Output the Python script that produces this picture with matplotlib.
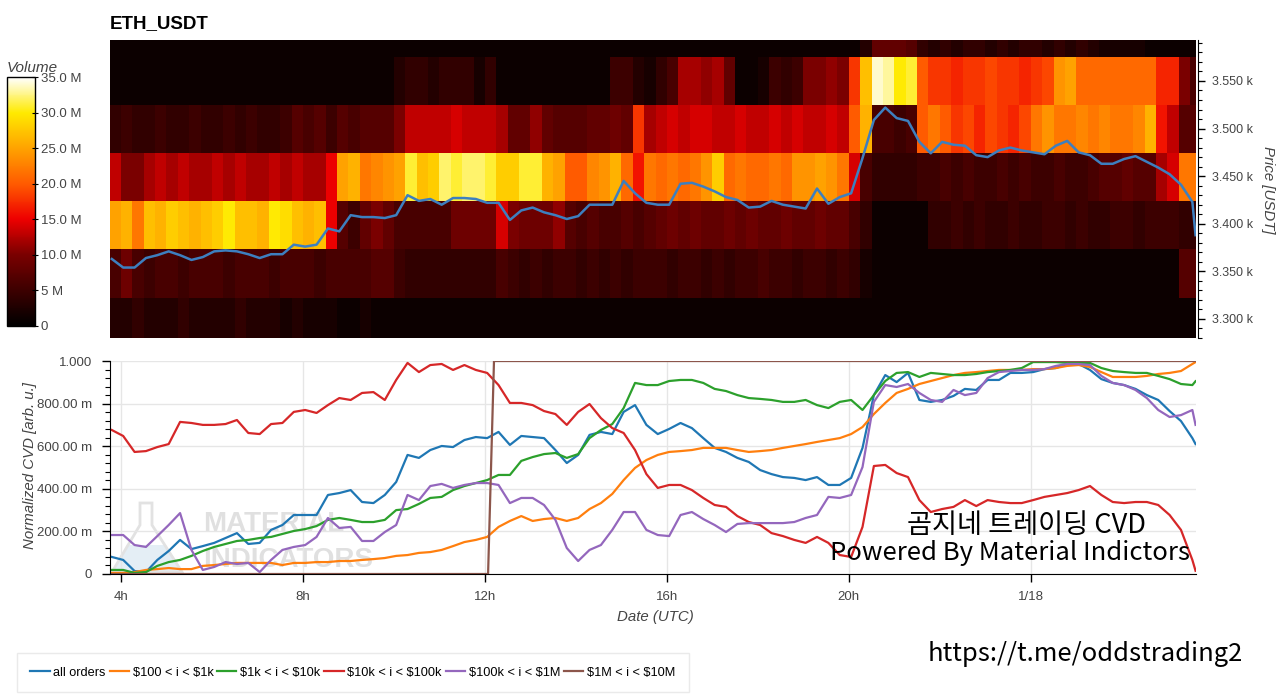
#!/usr/bin/env python3
import numpy as np
import matplotlib
matplotlib.use("Agg")
import matplotlib.pyplot as plt
from matplotlib.colors import LinearSegmentedColormap
from matplotlib.patches import Polygon
from matplotlib.ticker import FixedLocator, MultipleLocator, FuncFormatter

plt.rcParams['font.family'] = ['Liberation Sans', 'DejaVu Sans']
KR_FONT = ['Noto Sans CJK KR', 'DejaVu Sans']

W, H = 1280, 694
TEXT_COLOR = '#444444'

# Time axis in hours since 1/17 00:00 UTC
X_MIN, X_MAX = 3.76, 27.63
TIMES = np.append(3.8 + 0.25 * np.arange(96), 27.62)
CELL_EDGES = 3.75 + 0.25 * np.arange(97)
PRICE_EDGES = [3271, 3322, 3373, 3424, 3474, 3525, 3575, 3626]

X_TICKS = [4, 8, 12, 16, 20, 24]
X_TICK_LABELS = ['4h', '8h', '12h', '16h', '20h', '1/18']
PRICE_TICKS = [3300, 3350, 3400, 3450, 3500, 3550]
VOLUME_TICKS = [0, 5, 10, 15, 20, 25, 30, 35]
VOLUME_TICK_LABELS = ['0', '5 M', '10.0 M', '15.0 M', '20.0 M', '25.0 M', '30.0 M', '35.0 M']
CVD_TICKS = [0, 0.2, 0.4, 0.6, 0.8, 1.0]

# Volume per price band (millions), one value per 15 min column
band_3296 = [3, 3, 4, 3, 3, 3, 4, 3, 3, 3,
             3, 4, 3, 3, 3, 2, 3, 2, 2, 2,
             1, 1, 2, 1, 1, 1, 1, 1, 1, 1,
             1, 1, 1, 1, 1, 1, 1, 1, 1, 1,
             1, 1, 1, 1, 1, 1, 1, 1, 1, 1,
             1, 1, 1, 1, 1, 1, 1, 1, 1, 1,
             1, 1, 1, 1, 1, 1, 1, 1, 1, 1,
             1, 1, 1, 1, 1, 1, 1, 1, 1, 1,
             1, 1, 1, 1, 1, 1, 1, 1, 1, 1,
             1, 1, 1, 1, 1, 1]
band_3347 = [6, 9, 6, 5, 6, 6, 5, 6, 6, 6,
             5, 6, 6, 6, 5, 6, 6, 6, 5, 6,
             6, 6, 6, 7, 7, 5, 4, 4, 4, 4,
             4, 4, 4, 4, 6, 5, 4, 5, 4, 5,
             5, 4, 5, 4, 5, 4, 5, 5, 5, 4,
             5, 5, 4, 5, 4, 5, 5, 6, 5, 5,
             4, 5, 5, 4, 5, 4, 2, 1, 1, 1,
             1, 1, 1, 1, 1, 1, 1, 1, 1, 1,
             1, 1, 1, 1, 1, 1, 1, 1, 1, 1,
             1, 1, 1, 1, 7, 7]
band_3398 = [25, 26, 22, 27, 26, 28, 27, 26, 27, 28,
             30, 27, 27, 26, 30, 29, 27, 26, 27, 15,
             7, 5, 8, 10, 8, 6, 6, 6, 6, 6,
             9, 9, 9, 9, 14, 10, 9, 9, 9, 11,
             7, 6, 7, 6, 6, 7, 6, 7, 8, 9,
             8, 9, 8, 8, 9, 8, 9, 8, 8, 9,
             8, 8, 9, 8, 8, 6, 4, 1, 1, 1,
             1, 1, 4, 4, 5, 4, 5, 4, 4, 5,
             4, 4, 5, 5, 4, 5, 4, 4, 5, 5,
             4, 5, 5, 5, 4, 4]
band_3449 = [13, 10, 10, 12, 13, 12, 13, 12, 12, 13,
             12, 13, 12, 12, 13, 12, 13, 12, 12, 15,
             25, 26, 22, 23, 24, 25, 31, 27, 28, 32,
             31, 32, 32, 31, 28, 28, 31, 31, 26, 25,
             20, 20, 23, 24, 26, 21, 16, 22, 21, 22,
             21, 22, 24, 28, 21, 22, 21, 21, 22, 21,
             24, 24, 25, 24, 22, 14, 6, 4, 4, 4,
             4, 5, 5, 6, 5, 6, 5, 5, 6, 5,
             6, 5, 5, 6, 5, 5, 6, 7, 7, 8,
             7, 7, 12, 14, 22, 22]
band_3499 = [4, 5, 4, 4, 5, 4, 4, 5, 4, 4,
             5, 4, 5, 4, 4, 5, 7, 6, 7, 5,
             7, 6, 7, 7, 7, 10, 13, 13, 13, 13,
             14, 13, 13, 13, 12, 8, 8, 11, 8, 7,
             7, 7, 8, 8, 9, 8, 18, 12, 13, 14,
             13, 14, 14, 13, 13, 14, 13, 13, 14, 13,
             14, 13, 13, 14, 13, 20, 26, 6, 6, 5,
             6, 20, 22, 20, 18, 19, 17, 19, 18, 17,
             19, 22, 24, 22, 22, 23, 22, 23, 22, 22,
             23, 26, 16, 13, 7, 7]
band_3550 = [1, 1, 1, 1, 1, 1, 1, 1, 1, 1,
             1, 1, 1, 1, 1, 1, 1, 1, 1, 1,
             1, 1, 1, 1, 1, 3, 4, 4, 3, 4,
             4, 4, 2, 4, 1, 1, 1, 1, 1, 1,
             1, 1, 1, 1, 5, 5, 3, 2, 4, 6,
             12, 12, 11, 12, 8, 1, 1, 2, 5, 4,
             5, 10, 10, 11, 10, 18, 27, 34, 33, 30,
             31, 20, 18, 18, 17, 18, 18, 19, 18, 18,
             17, 18, 19, 24, 25, 21, 21, 21, 21, 21,
             21, 21, 17, 17, 10, 6]
band_3600 = [1, 1, 1, 1, 1, 1, 1, 1, 1, 1,
             1, 1, 1, 1, 1, 1, 1, 1, 1, 1,
             1, 1, 1, 1, 1, 1, 1, 1, 1, 1,
             1, 1, 1, 1, 1, 1, 1, 1, 1, 1,
             1, 1, 1, 1, 1, 1, 1, 1, 1, 1,
             1, 1, 1, 1, 1, 1, 1, 1, 1, 1,
             1, 1, 1, 1, 1, 1, 3, 8, 8, 8,
             7, 4, 3, 4, 3, 4, 4, 3, 4, 3,
             4, 4, 3, 4, 3, 4, 3, 2, 2, 2,
             2, 1, 1, 1, 1, 1]

price_usdt = [3363, 3354, 3354, 3364, 3367, 3371, 3367, 3362, 3365, 3371,
              3372, 3371, 3368, 3364, 3368, 3368, 3378, 3376, 3378, 3395,
              3392, 3409, 3407, 3407, 3406, 3409, 3430, 3424, 3426, 3420,
              3427, 3427, 3426, 3422, 3422, 3404, 3414, 3417, 3412, 3409,
              3405, 3408, 3420, 3420, 3420, 3445, 3432, 3422, 3420, 3420,
              3442, 3443, 3439, 3434, 3428, 3425, 3417, 3418, 3424, 3420,
              3418, 3416, 3437, 3421, 3428, 3432, 3469, 3509, 3522, 3511,
              3508, 3486, 3474, 3486, 3483, 3482, 3472, 3470, 3477, 3480,
              3477, 3475, 3473, 3482, 3487, 3475, 3472, 3463, 3463, 3468,
              3471, 3465, 3459, 3452, 3441, 3423, 3388]

# Normalized CVD per order size bucket
cvd_all = [0.080, 0.066, 0.014, 0.009, 0.066, 0.108, 0.160, 0.117, 0.131, 0.146,
           0.169, 0.192, 0.141, 0.146, 0.207, 0.230, 0.277, 0.277, 0.277, 0.371,
           0.380, 0.394, 0.338, 0.333, 0.371, 0.432, 0.559, 0.545, 0.582, 0.601,
           0.596, 0.629, 0.643, 0.638, 0.667, 0.606, 0.648, 0.643, 0.638, 0.582,
           0.521, 0.559, 0.653, 0.667, 0.657, 0.761, 0.793, 0.700, 0.657, 0.681,
           0.709, 0.685, 0.638, 0.592, 0.573, 0.545, 0.526, 0.488, 0.469, 0.455,
           0.451, 0.441, 0.455, 0.418, 0.418, 0.451, 0.592, 0.840, 0.934, 0.901,
           0.944, 0.817, 0.808, 0.817, 0.836, 0.869, 0.864, 0.911, 0.911, 0.944,
           0.944, 0.948, 0.962, 0.967, 0.986, 0.986, 0.958, 0.915, 0.897, 0.887,
           0.869, 0.840, 0.817, 0.765, 0.718, 0.638, 0.610]
cvd_100_1k = [0.005, 0.005, 0.009, 0.019, 0.023, 0.028, 0.023, 0.023, 0.038, 0.042,
              0.047, 0.052, 0.052, 0.052, 0.052, 0.042, 0.052, 0.052, 0.056, 0.056,
              0.061, 0.061, 0.066, 0.070, 0.075, 0.085, 0.089, 0.099, 0.103, 0.113,
              0.131, 0.150, 0.160, 0.174, 0.221, 0.249, 0.272, 0.249, 0.258, 0.263,
              0.249, 0.263, 0.305, 0.333, 0.376, 0.441, 0.498, 0.535, 0.559, 0.573,
              0.577, 0.582, 0.592, 0.592, 0.592, 0.582, 0.573, 0.577, 0.582, 0.592,
              0.601, 0.610, 0.620, 0.629, 0.638, 0.657, 0.690, 0.751, 0.803, 0.850,
              0.869, 0.892, 0.906, 0.920, 0.934, 0.944, 0.948, 0.953, 0.958, 0.958,
              0.958, 0.962, 0.962, 0.967, 0.977, 0.981, 0.972, 0.948, 0.925, 0.925,
              0.925, 0.930, 0.939, 0.944, 0.953, 0.986, 0.995]
cvd_1k_10k = [0.019, 0.019, 0.005, 0.009, 0.038, 0.056, 0.066, 0.085, 0.108, 0.127,
              0.141, 0.155, 0.160, 0.169, 0.174, 0.188, 0.202, 0.211, 0.225, 0.254,
              0.263, 0.254, 0.244, 0.244, 0.254, 0.300, 0.305, 0.329, 0.357, 0.362,
              0.394, 0.413, 0.427, 0.441, 0.465, 0.465, 0.531, 0.549, 0.563, 0.568,
              0.545, 0.563, 0.638, 0.676, 0.704, 0.779, 0.897, 0.887, 0.887, 0.906,
              0.911, 0.911, 0.897, 0.869, 0.859, 0.840, 0.826, 0.822, 0.817, 0.808,
              0.808, 0.817, 0.793, 0.779, 0.808, 0.817, 0.770, 0.840, 0.906, 0.944,
              0.948, 0.925, 0.944, 0.939, 0.934, 0.934, 0.939, 0.948, 0.953, 0.958,
              0.967, 0.995, 0.995, 0.995, 0.991, 0.991, 0.991, 0.967, 0.953, 0.948,
              0.944, 0.944, 0.930, 0.915, 0.892, 0.887, 0.905]
cvd_10k_100k = [0.676, 0.648, 0.573, 0.577, 0.596, 0.610, 0.714, 0.709, 0.700, 0.700,
                0.704, 0.723, 0.662, 0.657, 0.704, 0.709, 0.761, 0.770, 0.756, 0.793,
                0.826, 0.817, 0.850, 0.854, 0.817, 0.911, 0.991, 0.948, 0.981, 0.986,
                0.958, 0.981, 0.958, 0.944, 0.887, 0.803, 0.803, 0.793, 0.765, 0.751,
                0.700, 0.761, 0.798, 0.732, 0.685, 0.662, 0.582, 0.469, 0.404, 0.418,
                0.418, 0.394, 0.357, 0.324, 0.315, 0.272, 0.244, 0.230, 0.192, 0.178,
                0.160, 0.146, 0.174, 0.146, 0.089, 0.080, 0.221, 0.507, 0.512, 0.474,
                0.455, 0.347, 0.291, 0.305, 0.315, 0.347, 0.319, 0.347, 0.338, 0.333,
                0.333, 0.347, 0.362, 0.371, 0.380, 0.394, 0.413, 0.371, 0.338, 0.333,
                0.338, 0.338, 0.324, 0.277, 0.207, 0.066, 0.015]
cvd_100k_1m = [0.183, 0.183, 0.136, 0.127, 0.178, 0.230, 0.286, 0.113, 0.019, 0.033,
               0.056, 0.047, 0.052, 0.009, 0.066, 0.113, 0.127, 0.136, 0.174, 0.263,
               0.216, 0.221, 0.155, 0.155, 0.197, 0.230, 0.371, 0.347, 0.413, 0.423,
               0.404, 0.418, 0.427, 0.427, 0.418, 0.333, 0.357, 0.357, 0.324, 0.254,
               0.122, 0.061, 0.113, 0.136, 0.207, 0.291, 0.291, 0.207, 0.183, 0.178,
               0.277, 0.291, 0.258, 0.230, 0.197, 0.235, 0.239, 0.239, 0.239, 0.239,
               0.244, 0.263, 0.277, 0.362, 0.357, 0.371, 0.502, 0.808, 0.887, 0.878,
               0.892, 0.850, 0.817, 0.808, 0.864, 0.840, 0.850, 0.920, 0.948, 0.953,
               0.958, 0.958, 0.962, 0.977, 0.986, 0.986, 0.981, 0.930, 0.897, 0.887,
               0.864, 0.826, 0.770, 0.737, 0.746, 0.770, 0.700]
# the $1M bucket only has two levels, so it keeps its own time points
brown_times = [3.8, 12.07, 12.2, 27.62]
cvd_1m_10m = [0.0, 0.0, 1.0, 1.0]

SERIES_LABELS = ['all orders', r'\$100 < i < \$1k', r'\$1k < i < \$10k',
                 r'\$10k < i < \$100k', r'\$100k < i < \$1M', r'\$1M < i < \$10M']
SERIES_COLORS = ['#1f77b4', '#ff7f0e', '#2ca02c', '#d62728', '#9467bd', '#8c564b']


def px_box(left, top, right, bottom):
    """Axes rectangle from pixel edges (origin top-left)."""
    return [left / W, 1 - bottom / H, (right - left) / W, (bottom - top) / H]


def fig_xy(x, y):
    return x / W, 1 - y / H


def cvd_label(v, pos):
    if v == 0:
        return '0'
    if v >= 1:
        return '1.000'
    return f"{v * 1000:.2f} m"


def main():
    fig = plt.figure(figsize=(W / 100, H / 100), dpi=100)
    ax_heat = fig.add_axes(px_box(110, 40, 1196, 338))
    ax_cvd = fig.add_axes(px_box(110, 361, 1196, 574))
    cax = fig.add_axes(px_box(7, 77, 35, 326))

    # Heatmap of volume by price band
    cmap = LinearSegmentedColormap.from_list('volume', [
        (0.0, '#000000'), (0.143, '#3d0000'), (0.286, '#7a0000'),
        (0.43, '#ee0000'), (0.57, '#ff5a00'), (0.714, '#ffa200'),
        (0.857, '#ffea00'), (1.0, '#ffffff')])
    volume = np.array([band_3296, band_3347, band_3398, band_3449,
                       band_3499, band_3550, band_3600])
    mesh = ax_heat.pcolormesh(CELL_EDGES, PRICE_EDGES, volume, cmap=cmap,
                              vmin=0, vmax=35, shading='flat')
    ax_heat.plot(TIMES, price_usdt, color='#3d7fbf', lw=1.8)
    ax_heat.set_xlim(X_MIN, X_MAX)
    ax_heat.set_ylim(3280, 3593)
    ax_heat.set_xticks([])
    ax_heat.yaxis.tick_right()
    for s in ['left', 'top', 'bottom']:
        ax_heat.spines[s].set_visible(False)
    ax_heat.spines['right'].set_position(('outward', 1.5))
    ax_heat.yaxis.set_major_locator(FixedLocator(PRICE_TICKS))
    ax_heat.yaxis.set_major_formatter(FuncFormatter(lambda v, p: f"{v / 1000:.3f} k"))
    ax_heat.yaxis.set_minor_locator(MultipleLocator(10))
    ax_heat.tick_params(axis='y', which='major', length=5, width=1, pad=5,
                        labelsize=9, labelcolor=TEXT_COLOR)
    ax_heat.tick_params(axis='y', which='minor', length=3, width=0.8)

    cb = fig.colorbar(mesh, cax=cax, ticks=VOLUME_TICKS)
    cb.ax.set_yticklabels(VOLUME_TICK_LABELS)
    cb.outline.set_edgecolor('black')
    cb.outline.set_linewidth(1)
    cax.tick_params(direction='inout', length=4, labelsize=9.5,
                    labelcolor=TEXT_COLOR, pad=2)

    # Watermark behind the CVD lines
    flask = Polygon([fig_xy(*p) for p in [(140, 503), (152, 503), (152, 525), (182, 572),
                                          (112, 572), (140, 525)]],
                    closed=True, transform=fig.transFigure, facecolor='none',
                    edgecolor='#e2e2e2', lw=2, zorder=0.5, clip_on=False)
    liquid = Polygon([fig_xy(*p) for p in [(127, 545), (166, 545), (182, 572), (112, 572)]],
                     closed=True, transform=fig.transFigure, facecolor='#e4eef5',
                     edgecolor='none', zorder=0.4, clip_on=False)
    ax_cvd.add_patch(liquid)
    ax_cvd.add_patch(flask)
    ax_cvd.text(*fig_xy(203, 531), 'MATERIAL', transform=fig.transFigure, fontsize=20,
                fontweight='bold', color='#e0e0e0', zorder=0.5, va='baseline')
    ax_cvd.text(*fig_xy(203, 567), 'INDICATORS', transform=fig.transFigure, fontsize=20,
                fontweight='bold', color='#e0e0e0', zorder=0.5, va='baseline')

    # CVD lines
    series = [cvd_all, cvd_100_1k, cvd_1k_10k, cvd_10k_100k, cvd_100k_1m]
    for vals, label, color in zip(series, SERIES_LABELS, SERIES_COLORS):
        ax_cvd.plot(TIMES, vals, color=color, lw=1.6, label=label)
    ax_cvd.plot(brown_times, cvd_1m_10m, color=SERIES_COLORS[5], lw=1.6,
                label=SERIES_LABELS[5])

    ax_cvd.set_xlim(X_MIN, X_MAX)
    ax_cvd.set_ylim(0, 1)
    ax_cvd.set_xticks(X_TICKS, X_TICK_LABELS)
    ax_cvd.yaxis.set_major_locator(FixedLocator(CVD_TICKS))
    ax_cvd.yaxis.set_major_formatter(FuncFormatter(cvd_label))
    ax_cvd.yaxis.set_minor_locator(MultipleLocator(0.04))
    ax_cvd.grid(True, color='#e6e6e6', lw=1)
    ax_cvd.set_axisbelow(True)
    for s in ['top', 'right']:
        ax_cvd.spines[s].set_visible(False)
    ax_cvd.tick_params(axis='both', which='major', length=6, width=1,
                       labelsize=9.5, labelcolor=TEXT_COLOR)
    ax_cvd.tick_params(axis='y', which='major', pad=7)
    ax_cvd.tick_params(axis='x', which='major', pad=6)
    ax_cvd.tick_params(axis='y', which='minor', length=3.5, width=0.8)

    handles, labels = ax_cvd.get_legend_handles_labels()
    leg = fig.legend(handles, labels, loc='lower left', bbox_to_anchor=fig_xy(17, 692),
                     ncol=6, frameon=True, fancybox=False, edgecolor='#e5e5e5',
                     fontsize=9.2, handlelength=1.5, handletextpad=0.3,
                     columnspacing=0.3, borderpad=1.05, borderaxespad=0)
    leg.get_frame().set_linewidth(1)

    # Texts
    fig.text(*fig_xy(110, 28), 'ETH_USDT', fontsize=13.5, fontweight='bold', va='baseline')
    fig.text(*fig_xy(7, 72), 'Volume', style='italic', fontsize=11,
             color=TEXT_COLOR, va='baseline')
    fig.text(*fig_xy(1268, 190), 'Price [USDT]', style='italic', fontsize=10.8,
             color=TEXT_COLOR, rotation=270, ha='center', va='center')
    fig.text(*fig_xy(30, 466), 'Normalized CVD [arb. u.]', style='italic', fontsize=10.8,
             color=TEXT_COLOR, rotation=90, ha='center', va='center')
    fig.text(*fig_xy(655, 617), 'Date (UTC)', style='italic', fontsize=10.8,
             color=TEXT_COLOR, ha='center', va='center')

    fig.text(*fig_xy(907, 533), '곰지네 트레이딩 CVD', family=KR_FONT, fontsize=19.6,
             va='baseline')
    fig.text(*fig_xy(830, 560), 'Powered By Material Indictors', family=KR_FONT,
             fontsize=18.5, va='baseline')
    fig.text(*fig_xy(928, 661), 'https://t.me/oddstrading2', family=KR_FONT,
             fontsize=18.4, va='baseline')

    fig.savefig('out.png', dpi=100)


if __name__ == "__main__":
    main()
